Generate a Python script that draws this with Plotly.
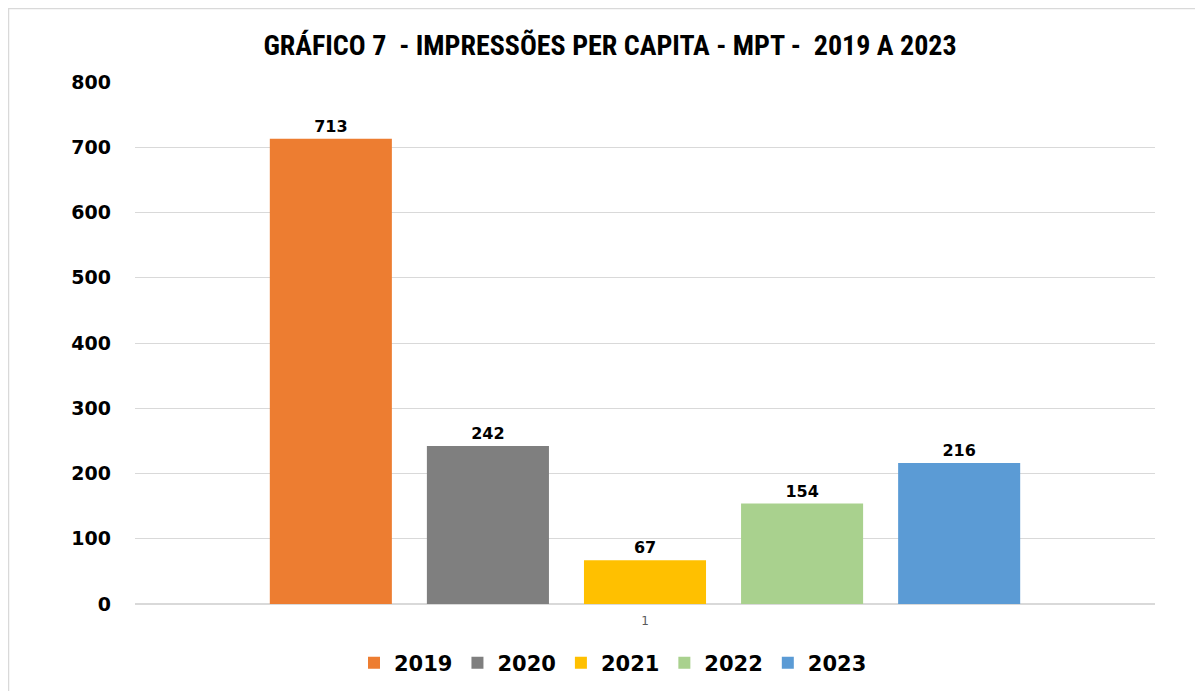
import plotly.graph_objects as go

categories = ["1"]
years = ["2019", "2020", "2021", "2022", "2023"]
values = [713, 242, 67, 154, 216]
colors = ["#ED7D31", "#7F7F7F", "#FFC000", "#A9D18E", "#5B9BD5"]
y_ticks = [0, 100, 200, 300, 400, 500, 600, 700, 800]

fig = go.Figure()
for yr, v, c in zip(years, values, colors):
    fig.add_trace(go.Bar(
        x=categories, y=[v], name=yr, marker_color=c, marker_line_width=0,
        text=[str(v)], textposition="outside", cliponaxis=False,
        textfont=dict(family="DejaVu Sans", size=16, color="#000000", weight="bold"),
    ))

# page has an 8px body margin; figure sized so the plot lands where the reference has it
W, H = 1195, 683
L, R, T, B = 127, 48, 74, 87
pw, ph = W - L - R, H - T - B

fig.update_layout(
    width=W, height=H,
    margin=dict(l=L, r=R, t=T, b=B, autoexpand=False),
    paper_bgcolor="white", plot_bgcolor="white",
    barmode="group", bargap=0.23, bargroupgap=0.223,
    title=dict(text="<b>GRÁFICO 7  - IMPRESSÕES PER CAPITA - MPT -  2019 A 2023</b>",
               x=(610 - 8) / W, xanchor="center", y=1 - (45 - 8) / H, yanchor="middle",
               font=dict(family="Liberation Sans Narrow, Roboto Condensed, Open Sans", size=28, color="#000000")),
    legend=dict(orientation="h", x=(613 - 8 - L) / pw, xanchor="center",
                y=(596 - (663 - 8)) / ph, yanchor="middle",
                font=dict(family="DejaVu Sans", size=21, color="#000000", weight="bold"),
                itemwidth=30, traceorder="normal"),
    yaxis=dict(range=[0, 800], tickvals=y_ticks, showgrid=True, gridcolor="#D9D9D9", gridwidth=1,
               zeroline=True, zerolinecolor="#D9D9D9", showline=False, ticks="",
               tickfont=dict(family="DejaVu Sans", size=19, color="#000000", weight="bold"),
               ticklabelstandoff=23),
    xaxis=dict(type="category", showline=False, ticks="", showgrid=False,
               tickfont=dict(family="DejaVu Sans", size=12, color="#595959"),
               ticklabelstandoff=8),
    shapes=[dict(type="rect", xref="paper", yref="paper",
                 x0=(0.5 - L) / pw, x1=(W + 5 - L) / pw, y0=-(B + 10) / ph, y1=1 + (T - 0.5) / ph,
                 line=dict(color="#D9D9D9", width=1.5), fillcolor="rgba(0,0,0,0)", layer="below")],
)

fig.write_html("out.html")
